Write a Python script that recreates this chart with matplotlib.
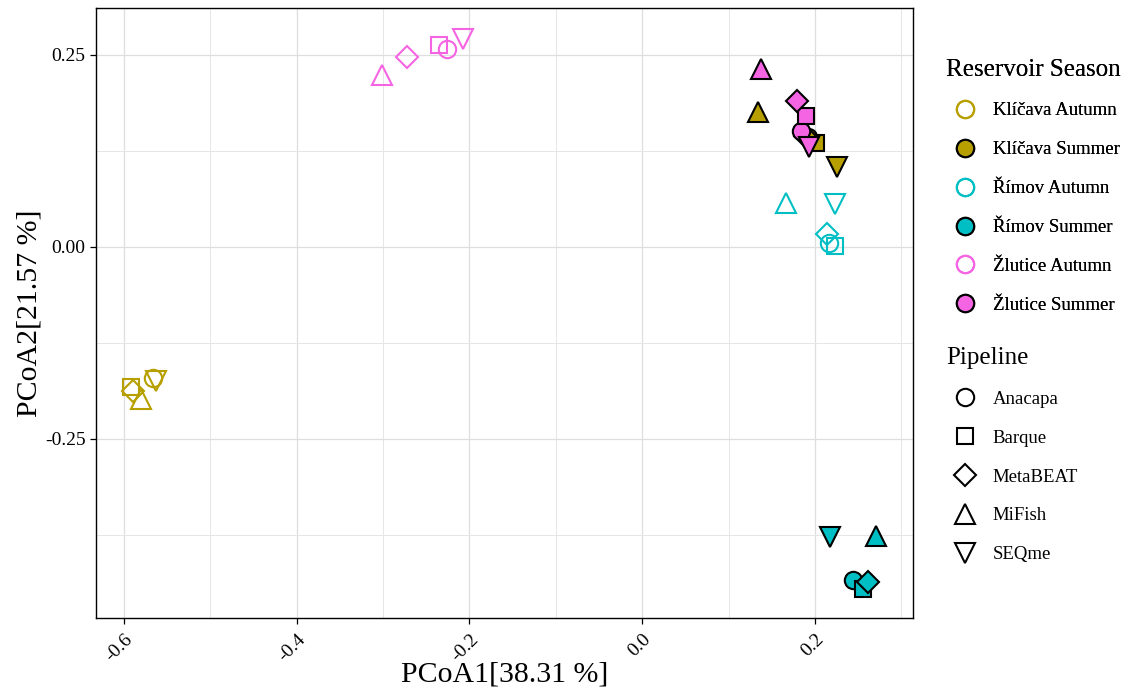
import matplotlib
matplotlib.use('Agg')
import matplotlib.pyplot as plt
from matplotlib.lines import Line2D
from matplotlib.ticker import MultipleLocator

plt.rcParams['font.family'] = ['Liberation Serif', 'DejaVu Serif']
plt.rcParams['axes.unicode_minus'] = False

pipelines = ['Anacapa', 'Barque', 'MetaBEAT', 'MiFish', 'SEQme']
markers = ['o', 's', 'D', '^', 'v']
groups = ['Klíčava Autumn', 'Klíčava Summer', 'Římov Autumn',
          'Římov Summer', 'Žlutice Autumn', 'Žlutice Summer']
colors = ['#B79F00', '#B79F00', '#00BFC4', '#00BFC4', '#F564E3', '#F564E3']
filled = [False, True, False, True, False, True]

# PCoA coordinates per group, in pipeline order (Anacapa, Barque, MetaBEAT, MiFish, SEQme)
pc1 = {
    'Klíčava Autumn': [-0.567, -0.592, -0.590, -0.580, -0.563],
    'Klíčava Summer': [0.192, 0.201, 0.188, 0.134, 0.225],
    'Římov Autumn':   [0.216, 0.223, 0.214, 0.167, 0.223],
    'Římov Summer':   [0.244, 0.256, 0.262, 0.271, 0.218],
    'Žlutice Autumn': [-0.226, -0.235, -0.272, -0.301, -0.207],
    'Žlutice Summer': [0.184, 0.190, 0.179, 0.137, 0.193],
}
pc2 = {
    'Klíčava Autumn': [-0.171, -0.182, -0.188, -0.198, -0.174],
    'Klíčava Summer': [0.143, 0.135, 0.145, 0.176, 0.104],
    'Římov Autumn':   [0.005, 0.001, 0.017, 0.057, 0.056],
    'Římov Summer':   [-0.434, -0.445, -0.436, -0.376, -0.378],
    'Žlutice Autumn': [0.258, 0.263, 0.247, 0.224, 0.271],
    'Žlutice Summer': [0.151, 0.171, 0.190, 0.232, 0.130],
}

fig = plt.figure(figsize=(11.26, 6.95), dpi=100)
ax = fig.add_axes([0.0853, 0.1108, 0.7255, 0.8777])

sizes = {'o': 12.5, 's': 11.5, 'D': 11, '^': 14.5, 'v': 14.5}
for g, c, f in zip(groups, colors, filled):
    for i, m in enumerate(markers):
        if f:
            ax.plot(pc1[g][i], pc2[g][i], marker=m, ms=sizes[m], mfc=c, mec='black',
                    mew=1.5, ls='none', zorder=3)
        else:
            ax.plot(pc1[g][i], pc2[g][i], marker=m, ms=sizes[m], mfc='none', mec=c,
                    mew=1.5, ls='none', zorder=3)

ax.set_xlim(-0.6324, 0.3135)
ax.set_ylim(-0.483, 0.311)
ax.xaxis.set_minor_locator(MultipleLocator(0.1))
ax.yaxis.set_minor_locator(MultipleLocator(0.125))
ax.set_yticks([-0.25, 0.0, 0.25])
ax.set_yticklabels(['-0.25', '0.00', '0.25'])
ax.set_xticks([-0.6, -0.4, -0.2, 0.0, 0.2])
ax.set_xticklabels(['-0.6', '-0.4', '-0.2', '0.0', '0.2'], rotation=45,
                   ha='right', va='top', rotation_mode='anchor')
ax.grid(True, which='major', color='#DEDEDE', lw=0.9)
ax.grid(True, which='minor', color='#E6E6E6', lw=0.7)
ax.set_axisbelow(True)
ax.tick_params(which='major', length=4, width=0.9, labelsize=14, colors='black')
ax.tick_params(axis='x', which='major', pad=5)
ax.tick_params(which='minor', length=0)
for s in ax.spines.values():
    s.set_linewidth(1.0)
    s.set_color('black')
ax.set_xlabel('PCoA1[38.31 %]', fontsize=21.5, labelpad=-2)
ax.set_ylabel('PCoA2[21.57 %]', fontsize=21.5, labelpad=2)

h1 = [Line2D([], [], marker='o', ls='none', ms=12.5, mew=1.5,
             mfc=(c if f else 'none'), mec=('black' if f else c))
      for c, f in zip(colors, filled)]
leg1 = fig.legend(h1, groups, title='Reservoir Season', loc='upper left',
                  bbox_to_anchor=(0.825, 0.94), frameon=False, fontsize=13.5,
                  title_fontsize=18, labelspacing=1.16, handletextpad=0.5,
                  alignment='left')
fig.add_artist(leg1)

h2 = [Line2D([], [], marker=m, ls='none', ms=sizes[m], mew=1.5, mfc='none', mec='black')
      for m in markers]
fig.legend(h2, pipelines, title='Pipeline', loc='upper left',
           bbox_to_anchor=(0.825, 0.525), frameon=False, fontsize=13.5,
           title_fontsize=18, labelspacing=1.16, handletextpad=0.5,
           alignment='left')

fig.savefig('out.png', dpi=100)
